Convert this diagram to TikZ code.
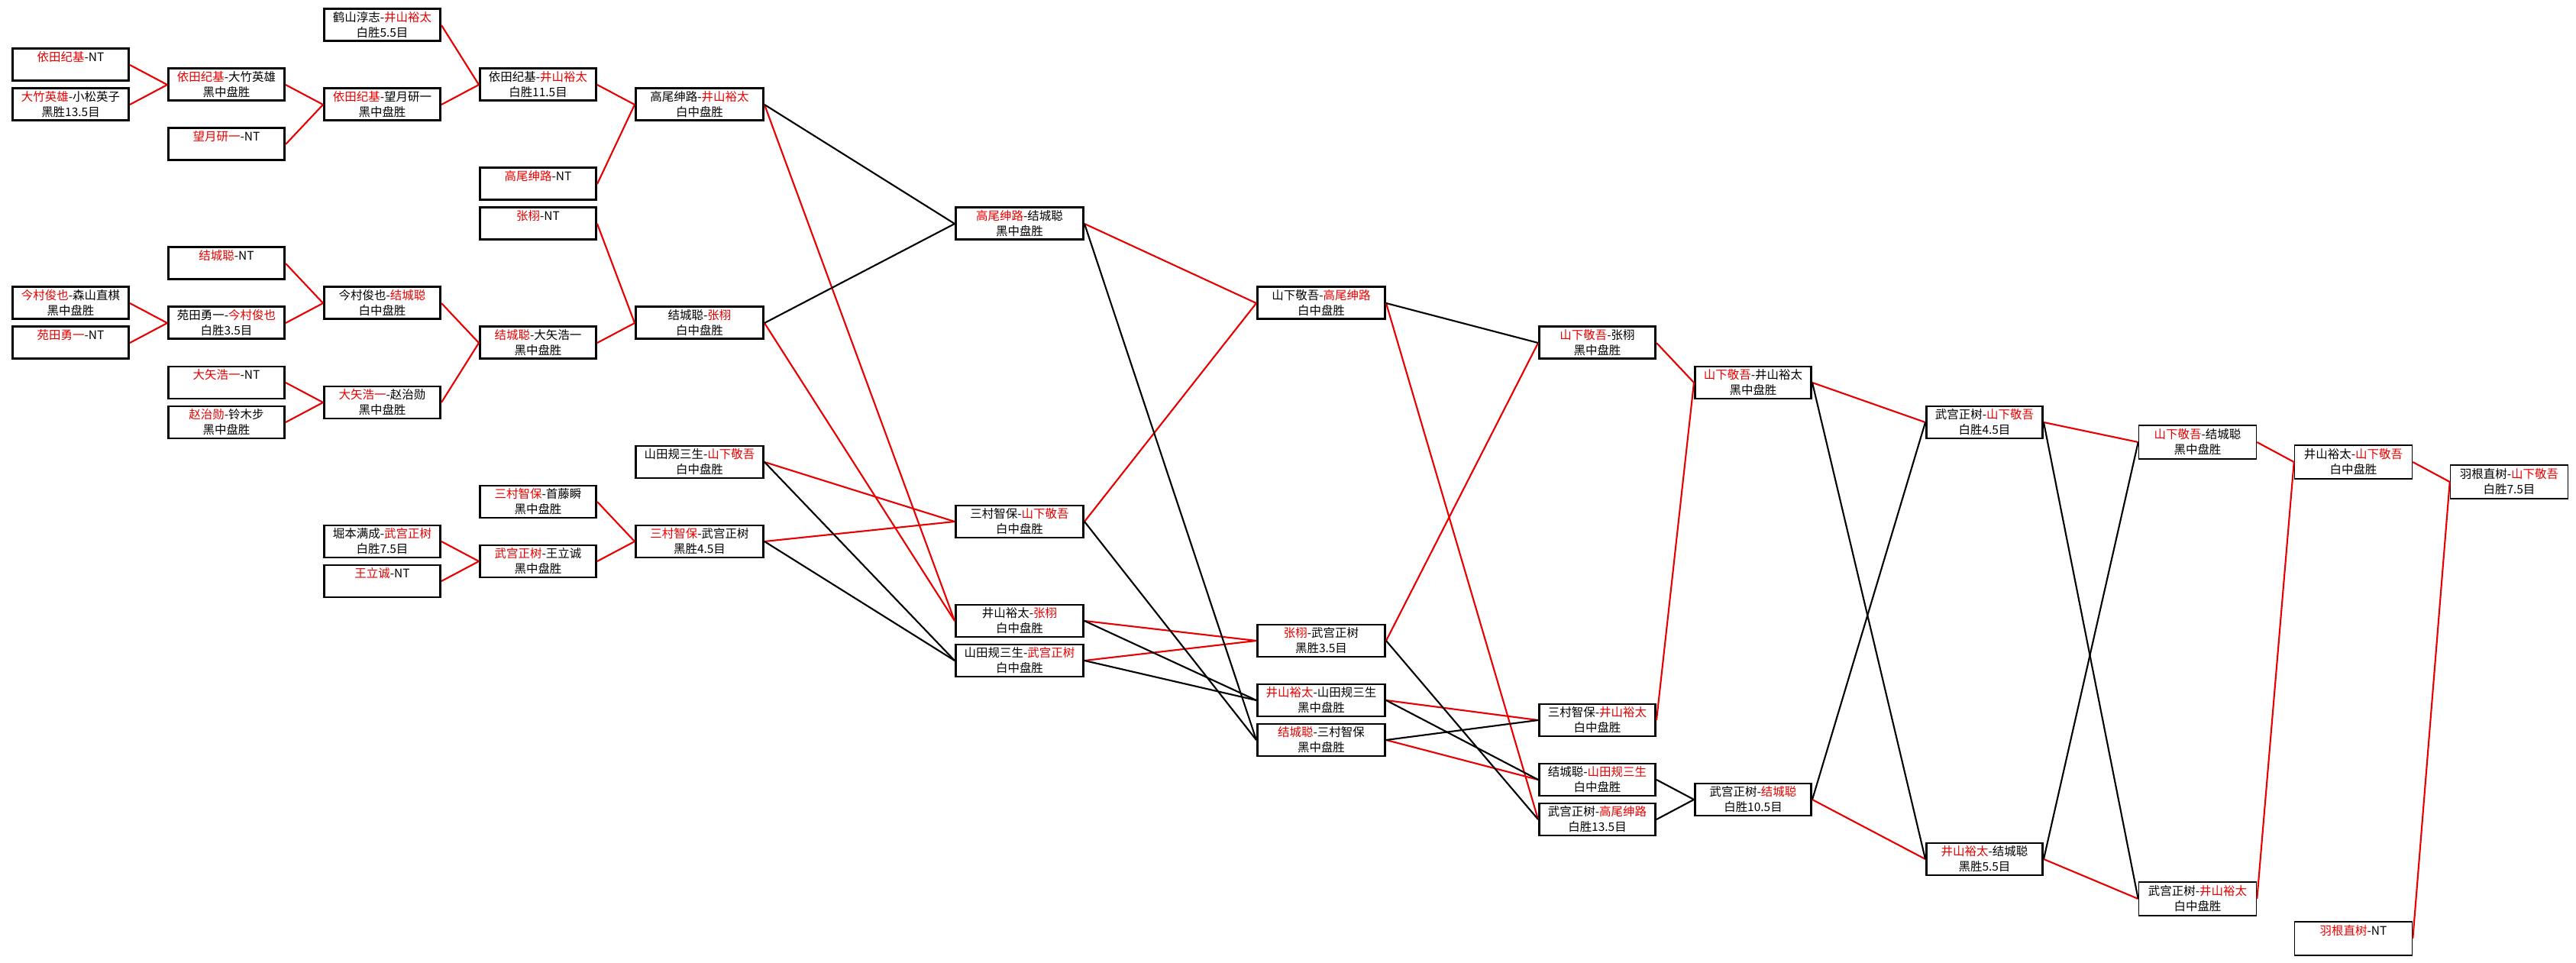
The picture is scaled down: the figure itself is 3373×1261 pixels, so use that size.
\documentclass[tikz,border=0pt]{standalone}
\usepackage{fontspec}
\newfontfamily\cjk{Noto Sans CJK SC}
\usepackage{xcolor}
\definecolor{winred}{RGB}{232,0,0}
\newcommand{\winner}[1]{\textcolor{winred}{#1}}
\newcommand{\bye}[1]{\winner{#1}-NT\\\phantom{胜}}

\begin{document}
\begin{tikzpicture}[
      x=0.1mm, y=-0.1mm,
      font=\cjk\fontsize{4.4}{5.7}\selectfont,
      game/.style={draw, line width=0.85pt, minimum width=15.2mm, minimum height=4.2mm, inner sep=0pt, align=center},
      widegame/.style={game, minimum width=16.7mm},
      lgame/.style={game, line width=0.45pt, minimum width=15.4mm, minimum height=4.4mm},
      win/.style={draw=winred, line width=0.6pt},
      lose/.style={draw=black, line width=0.6pt}
  ]
    \useasboundingbox (0,0) rectangle (3373,1261);

    % round 1
    \node[game] (a1) at (92.5,85) {\bye{依田纪基}};
    \node[game] (a2) at (92.5,137) {\winner{大竹英雄}-小松英子\\黑胜13.5目};
    \node[game] (a3) at (92.5,397) {\winner{今村俊也}-森山直棋\\黑中盘胜};
    \node[game] (a4) at (92.5,449) {\bye{苑田勇一}};

    % round 2
    \node[game] (b1) at (296.5,111) {\winner{依田纪基}-大竹英雄\\黑中盘胜};
    \node[game] (b2) at (296.5,189) {\bye{望月研一}};
    \node[game] (b3) at (296.5,345) {\bye{结城聪}};
    \node[game] (b4) at (296.5,423) {苑田勇一-\winner{今村俊也}\\白胜3.5目};
    \node[game] (b5) at (296.5,501) {\bye{大矢浩一}};
    \node[game] (b6) at (296.5,553) {\winner{赵治勋}-铃木步\\黑中盘胜};

    % round 3
    \node[game] (c1) at (500.5,33) {鹤山淳志-\winner{井山裕太}\\白胜5.5目};
    \node[game] (c2) at (500.5,137) {\winner{依田纪基}-望月研一\\黑中盘胜};
    \node[game] (c3) at (500.5,397) {今村俊也-\winner{结城聪}\\白中盘胜};
    \node[game] (c4) at (500.5,527) {\winner{大矢浩一}-赵治勋\\黑中盘胜};
    \node[game] (c5) at (500.5,709) {堀本满成-\winner{武宫正树}\\白胜7.5目};
    \node[game] (c6) at (500.5,761) {\bye{王立诚}};

    % round 4
    \node[game] (d1) at (704.5,111) {依田纪基-\winner{井山裕太}\\白胜11.5目};
    \node[game] (d2) at (704.5,241) {\bye{高尾绅路}};
    \node[game] (d3) at (704.5,293) {\bye{张栩}};
    \node[game] (d4) at (704.5,449) {\winner{结城聪}-大矢浩一\\黑中盘胜};
    \node[game] (d5) at (704.5,657) {\winner{三村智保}-首藤瞬\\黑中盘胜};
    \node[game] (d6) at (704.5,735) {\winner{武宫正树}-王立诚\\黑中盘胜};

    % round 5
    \node[widegame] (e1) at (916,137) {高尾绅路-\winner{井山裕太}\\白中盘胜};
    \node[widegame] (e2) at (916,423) {结城聪-\winner{张栩}\\白中盘胜};
    \node[widegame] (e3) at (916,605) {山田规三生-\winner{山下敬吾}\\白中盘胜};
    \node[widegame] (e4) at (916,709) {\winner{三村智保}-武宫正树\\黑胜4.5目};

    % round 6
    \node[widegame] (f1) at (1335,293) {\winner{高尾绅路}-结城聪\\黑中盘胜};
    \node[widegame] (f2) at (1335,683) {三村智保-\winner{山下敬吾}\\白中盘胜};
    \node[widegame] (f3) at (1335,813) {井山裕太-\winner{张栩}\\白中盘胜};
    \node[widegame] (f4) at (1335,865) {山田规三生-\winner{武宫正树}\\白中盘胜};

    % round 7
    \node[widegame] (g1) at (1730,397) {山下敬吾-\winner{高尾绅路}\\白中盘胜};
    \node[widegame] (g4) at (1730,839) {\winner{张栩}-武宫正树\\黑胜3.5目};
    \node[widegame] (g5) at (1730,917) {\winner{井山裕太}-山田规三生\\黑中盘胜};
    \node[widegame] (g6) at (1730,969) {\winner{结城聪}-三村智保\\黑中盘胜};

    % round 8
    \node[game] (h1) at (2091.5,449) {\winner{山下敬吾}-张栩\\黑中盘胜};
    \node[game] (h4) at (2091.5,943) {三村智保-\winner{井山裕太}\\白中盘胜};
    \node[game] (h5) at (2091.5,1021) {结城聪-\winner{山田规三生}\\白中盘胜};
    \node[game] (h6) at (2091.5,1073) {武宫正树-\winner{高尾绅路}\\白胜13.5目};

    % final rounds
    \node[game] (i1) at (2295.5,501) {\winner{山下敬吾}-井山裕太\\黑中盘胜};
    \node[game] (i2) at (2295.5,1047) {武宫正树-\winner{结城聪}\\白胜10.5目};
    \node[game] (j1) at (2598.5,553) {武宫正树-\winner{山下敬吾}\\白胜4.5目};
    \node[game] (j2) at (2598.5,1125) {\winner{井山裕太}-结城聪\\黑胜5.5目};
    \node[lgame] (k1) at (2877.5,579) {\winner{山下敬吾}-结城聪\\黑中盘胜};
    \node[lgame] (k2) at (2877.5,1177) {武宫正树-\winner{井山裕太}\\白中盘胜};
    \node[lgame] (l1) at (3081.5,605) {井山裕太-\winner{山下敬吾}\\白中盘胜};
    \node[lgame] (l2) at (3081.5,1229) {\bye{羽根直树}};
    \node[lgame] (m1) at (3285.5,631) {羽根直树-\winner{山下敬吾}\\白胜7.5目};

    % winners
    \draw[win] (a1.east) -- (b1.west);
    \draw[win] (a2.east) -- (b1.west);
    \draw[win] (b1.east) -- (c2.west);
    \draw[win] (b2.east) -- (c2.west);
    \draw[win] (c1.east) -- (d1.west);
    \draw[win] (c2.east) -- (d1.west);
    \draw[win] (d1.east) -- (e1.west);
    \draw[win] (d2.east) -- (e1.west);
    \draw[win] (b3.east) -- (c3.west);
    \draw[win] (a3.east) -- (b4.west);
    \draw[win] (a4.east) -- (b4.west);
    \draw[win] (b4.east) -- (c3.west);
    \draw[win] (b5.east) -- (c4.west);
    \draw[win] (b6.east) -- (c4.west);
    \draw[win] (c3.east) -- (d4.west);
    \draw[win] (c4.east) -- (d4.west);
    \draw[win] (d3.east) -- (e2.west);
    \draw[win] (d4.east) -- (e2.west);
    \draw[win] (c5.east) -- (d6.west);
    \draw[win] (c6.east) -- (d6.west);
    \draw[win] (d5.east) -- (e4.west);
    \draw[win] (d6.east) -- (e4.west);
    \draw[win] (e1.east) -- (f3.west);
    \draw[win] (e2.east) -- (f3.west);
    \draw[win] (e3.east) -- (f2.west);
    \draw[win] (e4.east) -- (f2.west);
    \draw[win] (f1.east) -- (g1.west);
    \draw[win] (f2.east) -- (g1.west);
    \draw[win] (f3.east) -- (g4.west);
    \draw[win] (f4.east) -- (g4.west);
    \draw[win] (g1.east) -- (h6.west);
    \draw[win] (g4.east) -- (h1.west);
    \draw[win] (g5.east) -- (h4.west);
    \draw[win] (g6.east) -- (h5.west);
    \draw[win] (h1.east) -- (i1.west);
    \draw[win] (h4.east) -- (i1.west);
    \draw[win] (i1.east) -- (j1.west);
    \draw[win] (i2.east) -- (j2.west);
    \draw[win] (j1.east) -- (k1.west);
    \draw[win] (j2.east) -- (k2.west);
    \draw[win] (k1.east) -- (l1.west);
    \draw[win] (k2.east) -- (l1.west);
    \draw[win] (l1.east) -- (m1.west);
    \draw[win] (l2.east) -- (m1.west);

    % losers
    \draw[lose] (e1.east) -- (f1.west);
    \draw[lose] (e2.east) -- (f1.west);
    \draw[lose] (e3.east) -- (f4.west);
    \draw[lose] (e4.east) -- (f4.west);
    \draw[lose] (f1.east) -- (g6.west);
    \draw[lose] (f2.east) -- (g6.west);
    \draw[lose] (f3.east) -- (g5.west);
    \draw[lose] (f4.east) -- (g5.west);
    \draw[lose] (g1.east) -- (h1.west);
    \draw[lose] (g4.east) -- (h6.west);
    \draw[lose] (g5.east) -- (h5.west);
    \draw[lose] (g6.east) -- (h4.west);
    \draw[lose] (h5.east) -- (i2.west);
    \draw[lose] (h6.east) -- (i2.west);
    \draw[lose] (i1.east) -- (j2.west);
    \draw[lose] (i2.east) -- (j1.west);
    \draw[lose] (j1.east) -- (k2.west);
    \draw[lose] (j2.east) -- (k1.west);
  \end{tikzpicture}
\end{document}
